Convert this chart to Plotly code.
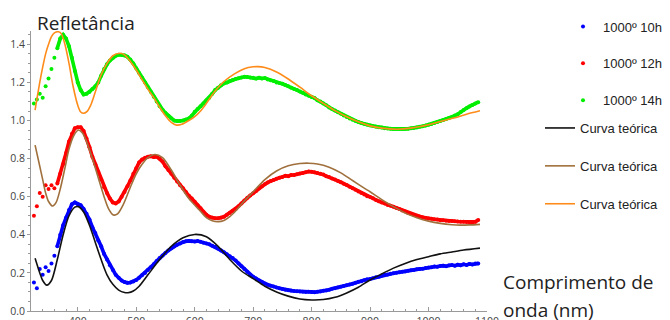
import plotly.graph_objects as go

# ---------------- data ----------------
wl_data = list(range(325, 1086, 5))  # sampled wavelengths (nm)

r_10h = [
    0.150, 0.120, 0.220, 0.190, 0.230, 0.210, 0.250, 0.290, 0.340, 0.400,   # 325-370
    0.450, 0.490, 0.530, 0.560, 0.570, 0.560, 0.555, 0.535, 0.510, 0.480,   # 375-420
    0.440, 0.410, 0.370, 0.340, 0.300, 0.270, 0.240, 0.215, 0.190, 0.175,   # 425-470
    0.160, 0.152, 0.148, 0.150, 0.155, 0.163, 0.175, 0.188, 0.200, 0.215,   # 475-520
    0.230, 0.245, 0.262, 0.278, 0.292, 0.305, 0.318, 0.330, 0.340, 0.348,   # 525-570
    0.355, 0.362, 0.366, 0.368, 0.366, 0.365, 0.367, 0.364, 0.358, 0.355,   # 575-620
    0.350, 0.343, 0.337, 0.328, 0.318, 0.308, 0.298, 0.288, 0.278, 0.265,   # 625-670
    0.250, 0.235, 0.220, 0.205, 0.190, 0.180, 0.170, 0.160, 0.152, 0.145,   # 675-720
    0.138, 0.132, 0.128, 0.124, 0.120, 0.116, 0.112, 0.109, 0.107, 0.105,   # 725-770
    0.104, 0.102, 0.101, 0.100, 0.101, 0.100, 0.099, 0.101, 0.103, 0.106,   # 775-820
    0.108, 0.112, 0.117, 0.120, 0.124, 0.127, 0.131, 0.135, 0.139, 0.143,   # 825-870
    0.148, 0.153, 0.156, 0.161, 0.166, 0.168, 0.172, 0.177, 0.180, 0.186,   # 875-920
    0.190, 0.192, 0.195, 0.198, 0.201, 0.204, 0.206, 0.207, 0.211, 0.214,   # 925-970
    0.215, 0.219, 0.221, 0.222, 0.226, 0.229, 0.230, 0.233, 0.232, 0.236,   # 975-1020
    0.238, 0.235, 0.240, 0.241, 0.238, 0.243, 0.240, 0.245, 0.242, 0.247,   # 1025-1070
    0.244, 0.249, 0.250,                                                    # 1075-1085
]

r_12h = [
    0.500, 0.550, 0.620, 0.600, 0.660, 0.640, 0.660, 0.645, 0.670, 0.720,   # 325-370
    0.770, 0.830, 0.890, 0.930, 0.960, 0.965, 0.965, 0.945, 0.905, 0.860,   # 375-420
    0.810, 0.770, 0.730, 0.690, 0.650, 0.620, 0.590, 0.570, 0.565, 0.575,   # 425-470
    0.600, 0.625, 0.655, 0.685, 0.720, 0.750, 0.780, 0.795, 0.805, 0.810,   # 475-520
    0.812, 0.808, 0.810, 0.800, 0.785, 0.760, 0.740, 0.720, 0.700, 0.680,   # 525-570
    0.660, 0.644, 0.625, 0.605, 0.590, 0.574, 0.555, 0.540, 0.520, 0.505,   # 575-620
    0.495, 0.490, 0.487, 0.487, 0.490, 0.495, 0.505, 0.515, 0.525, 0.535,   # 625-670
    0.550, 0.565, 0.580, 0.595, 0.607, 0.618, 0.630, 0.645, 0.655, 0.665,   # 675-720
    0.675, 0.682, 0.688, 0.694, 0.700, 0.704, 0.710, 0.708, 0.714, 0.714,   # 725-770
    0.718, 0.722, 0.724, 0.728, 0.732, 0.731, 0.728, 0.725, 0.720, 0.716,   # 775-820
    0.708, 0.703, 0.696, 0.690, 0.683, 0.676, 0.668, 0.661, 0.652, 0.645,   # 825-870
    0.637, 0.628, 0.620, 0.611, 0.603, 0.598, 0.592, 0.583, 0.576, 0.570,   # 875-920
    0.564, 0.557, 0.552, 0.547, 0.541, 0.535, 0.528, 0.522, 0.515, 0.509,   # 925-970
    0.504, 0.500, 0.496, 0.492, 0.488, 0.485, 0.484, 0.482, 0.480, 0.477,   # 975-1020
    0.476, 0.474, 0.473, 0.472, 0.471, 0.470, 0.469, 0.469, 0.467, 0.466,   # 1025-1070
    0.465, 0.468, 0.478,                                                    # 1075-1085
]

r_14h = [
    1.090, 1.110, 1.140, 1.120, 1.180, 1.220, 1.270, 1.330, 1.380, 1.430,   # 325-370
    1.450, 1.430, 1.390, 1.330, 1.260, 1.200, 1.160, 1.137, 1.140, 1.150,   # 375-420
    1.165, 1.180, 1.200, 1.235, 1.270, 1.295, 1.315, 1.330, 1.340, 1.345,   # 425-470
    1.345, 1.342, 1.335, 1.320, 1.300, 1.274, 1.250, 1.225, 1.200, 1.175,   # 475-520
    1.150, 1.125, 1.100, 1.075, 1.057, 1.040, 1.025, 1.010, 1.000, 0.997,   # 525-570
    0.998, 1.000, 1.005, 1.011, 1.025, 1.046, 1.060, 1.075, 1.090, 1.105,   # 575-620
    1.120, 1.140, 1.160, 1.172, 1.185, 1.195, 1.200, 1.207, 1.213, 1.218,   # 625-670
    1.222, 1.226, 1.230, 1.228, 1.226, 1.224, 1.220, 1.225, 1.221, 1.223,   # 675-720
    1.215, 1.212, 1.208, 1.200, 1.197, 1.193, 1.187, 1.180, 1.172, 1.165,   # 725-770
    1.160, 1.152, 1.146, 1.137, 1.130, 1.124, 1.118, 1.106, 1.100, 1.090,   # 775-820
    1.080, 1.068, 1.060, 1.052, 1.044, 1.036, 1.027, 1.019, 1.011, 1.004,   # 825-870
    0.998, 0.992, 0.987, 0.982, 0.978, 0.974, 0.971, 0.968, 0.965, 0.963,   # 875-920
    0.960, 0.958, 0.957, 0.956, 0.955, 0.955, 0.955, 0.956, 0.957, 0.959,   # 925-970
    0.961, 0.964, 0.967, 0.970, 0.974, 0.978, 0.982, 0.987, 0.992, 0.997,   # 975-1020
    1.003, 1.008, 1.013, 1.018, 1.026, 1.033, 1.045, 1.055, 1.065, 1.074,   # 1025-1070
    1.082, 1.090, 1.096,                                                    # 1075-1085
]

# theoretical curves (read at irregular wavelengths)
wl_t10 = [327, 335, 340, 347, 355, 365, 375, 385, 395, 401, 410, 420, 430, 440,
          450, 460, 470, 480, 486, 495, 505, 520, 540, 560, 580, 600, 620, 640,
          660, 680, 700, 720, 740, 760, 780, 800, 820, 840, 860, 880, 900, 920,
          940, 960, 980, 1000, 1020, 1040, 1060, 1088]
t_10h = [0.277, 0.200, 0.160, 0.136, 0.160, 0.270, 0.400, 0.500, 0.545, 0.548,
         0.520, 0.450, 0.360, 0.270, 0.190, 0.140, 0.110, 0.097, 0.096, 0.105,
         0.130, 0.190, 0.270, 0.340, 0.385, 0.402, 0.390, 0.340, 0.270, 0.210,
         0.170, 0.130, 0.100, 0.078, 0.063, 0.058, 0.060, 0.072, 0.095, 0.125,
         0.163, 0.195, 0.225, 0.250, 0.270, 0.285, 0.300, 0.310, 0.320, 0.330]

wl_t12 = [327, 335, 340, 345, 350, 357, 363, 370, 378, 385, 393, 401, 408, 415,
          425, 435, 445, 453, 461, 468, 478, 490, 500, 510, 520, 532, 545, 560,
          575, 590, 608, 620, 630, 640, 650, 660, 670, 685, 700, 720, 740, 760,
          780, 795, 810, 830, 850, 870, 890, 900, 920, 940, 963, 980, 1000, 1020,
          1040, 1054, 1070, 1088]
t_12h = [0.871, 0.760, 0.690, 0.620, 0.575, 0.551, 0.570, 0.640, 0.750, 0.850,
         0.920, 0.950, 0.935, 0.890, 0.800, 0.700, 0.600, 0.535, 0.504, 0.510,
         0.560, 0.650, 0.720, 0.770, 0.805, 0.822, 0.805, 0.740, 0.660, 0.590,
         0.530, 0.490, 0.474, 0.469, 0.475, 0.495, 0.525, 0.578, 0.626, 0.690,
         0.735, 0.762, 0.774, 0.776, 0.772, 0.755, 0.725, 0.685, 0.645, 0.626,
         0.585, 0.548, 0.510, 0.490, 0.472, 0.460, 0.453, 0.451, 0.452, 0.455]

wl_t14 = [327, 335, 340, 345, 350, 355, 360, 367, 372, 378, 385, 392, 400, 405,
          410, 415, 422, 430, 440, 450, 460, 472, 480, 490, 500, 510, 520, 530,
          540, 550, 560, 569, 578, 590, 600, 610, 620, 634, 650, 668, 685, 700,
          708, 720, 740, 760, 780, 800, 820, 840, 860, 880, 900, 920, 946, 970,
          1000, 1020, 1043, 1065, 1088]
t_14h = [1.055, 1.200, 1.280, 1.350, 1.400, 1.440, 1.460, 1.466, 1.455, 1.400,
         1.300, 1.180, 1.080, 1.045, 1.038, 1.045, 1.080, 1.150, 1.240, 1.300,
         1.340, 1.353, 1.345, 1.310, 1.265, 1.215, 1.165, 1.120, 1.070, 1.025,
         0.990, 0.976, 0.980, 1.000, 1.020, 1.050, 1.090, 1.151, 1.205, 1.245,
         1.272, 1.282, 1.283, 1.278, 1.255, 1.218, 1.175, 1.130, 1.090, 1.052,
         1.020, 0.993, 0.972, 0.960, 0.954, 0.960, 0.978, 0.995, 1.013, 1.033,
         1.051]

data_names = ["1000º 10h", "1000º 12h", "1000º 14h"]
data_colors = ["#0000FF", "#FF0000", "#00EE00"]
theory_name = "Curva teórica"
theory_colors = ["#111111", "#A0703C", "#FF8C1A"]

x_ticks = [400, 500, 600, 700, 800, 900, 1000, 1100]
y_ticks = [0.0, 0.2, 0.4, 0.6, 0.8, 1.0, 1.2, 1.4]

# ---------------- geometry (page body adds an 8px offset) ----------------
OFF = 8
W, H = 670 - OFF, 320 - OFF
L, R = 31 - OFF, W - (487 - OFF)
T, B = 31 - OFF, H - (311 - OFF)
pw, ph = W - L - R, H - T - B


def px_x(px):  # reference pixel -> paper coordinate
    return (px - OFF - L) / pw


def px_y(py):
    return (H - B - (py - OFF)) / ph


# ---------------- figure ----------------
fig = go.Figure()

smooth_from = 8  # the early part of the measurement is too noisy to join
for name, ys, col in zip(data_names, [r_10h, r_12h, r_14h], data_colors):
    fig.add_trace(go.Scatter(
        x=wl_data[smooth_from:], y=ys[smooth_from:], mode="lines",
        line=dict(color=col, width=3.6), showlegend=False, hoverinfo="skip",
    ))
    fig.add_trace(go.Scatter(
        x=wl_data, y=ys, mode="markers", name=name,
        marker=dict(color=col, size=4, line=dict(width=0)),
        legend="legend", legendgroup=name,
    ))

for i, (xs, ys, col) in enumerate(zip([wl_t10, wl_t12, wl_t14],
                                      [t_10h, t_12h, t_14h], theory_colors)):
    fig.add_trace(go.Scatter(
        x=xs, y=ys, mode="lines", name=theory_name,
        line=dict(color=col, width=1.6, shape="spline", smoothing=0.8),
        legend="legend2", legendgroup="t%d" % i,
    ))

axis_col = "#9a9a9a"
tick_font = dict(family="Open Sans", size=10.5, color="#444444")
text_font = dict(family="Open Sans", size=19, color="#222222")
leg_font = dict(family="Liberation Sans", size=13, color="#222222")

fig.update_layout(
    width=W, height=H,
    margin=dict(l=L, r=R, t=T, b=B, pad=0, autoexpand=False),
    template="none",
    paper_bgcolor="white", plot_bgcolor="white",
    showlegend=True,
    xaxis=dict(
        range=[320, 1100], tickvals=x_ticks, ticktext=[str(v) for v in x_ticks],
        showgrid=False, zeroline=False, showline=True, linecolor=axis_col, linewidth=1,
        ticks="inside", ticklen=4, tickcolor=axis_col, tickfont=tick_font,
        minor=dict(dtick=20, tick0=400, ticks="inside", ticklen=2, tickcolor=axis_col),
        automargin=False,
    ),
    yaxis=dict(
        range=[0, 1.47], tickvals=y_ticks, ticktext=["%.1f" % v for v in y_ticks],
        showgrid=False, zeroline=False, showline=True, linecolor=axis_col, linewidth=1,
        ticks="outside", ticklen=3, tickcolor=axis_col, tickfont=tick_font,
        minor=dict(dtick=0.05, tick0=0, ticks="outside", ticklen=2, tickcolor=axis_col),
        automargin=False,
    ),
    legend=dict(
        x=px_x(563), y=px_y(11.5), xanchor="left", yanchor="top",
        font=leg_font, bgcolor="rgba(0,0,0,0)", tracegroupgap=17, borderwidth=0,
    ),
    legend2=dict(
        x=px_x(540), y=px_y(113), xanchor="left", yanchor="top",
        font=leg_font, bgcolor="rgba(0,0,0,0)", tracegroupgap=18, borderwidth=0,
    ),
    annotations=[
        dict(text="Refletância", xref="paper", yref="paper",
             x=px_x(35), y=px_y(22.5), xanchor="left", yanchor="middle",
             showarrow=False, font=text_font),
        dict(text="Comprimento de", xref="paper", yref="paper",
             x=px_x(501), y=px_y(282), xanchor="left", yanchor="middle",
             showarrow=False, font=text_font),
        dict(text="onda (nm)", xref="paper", yref="paper",
             x=px_x(501), y=px_y(310), xanchor="left", yanchor="middle",
             showarrow=False, font=text_font),
    ],
)

fig.write_html("out.html")
